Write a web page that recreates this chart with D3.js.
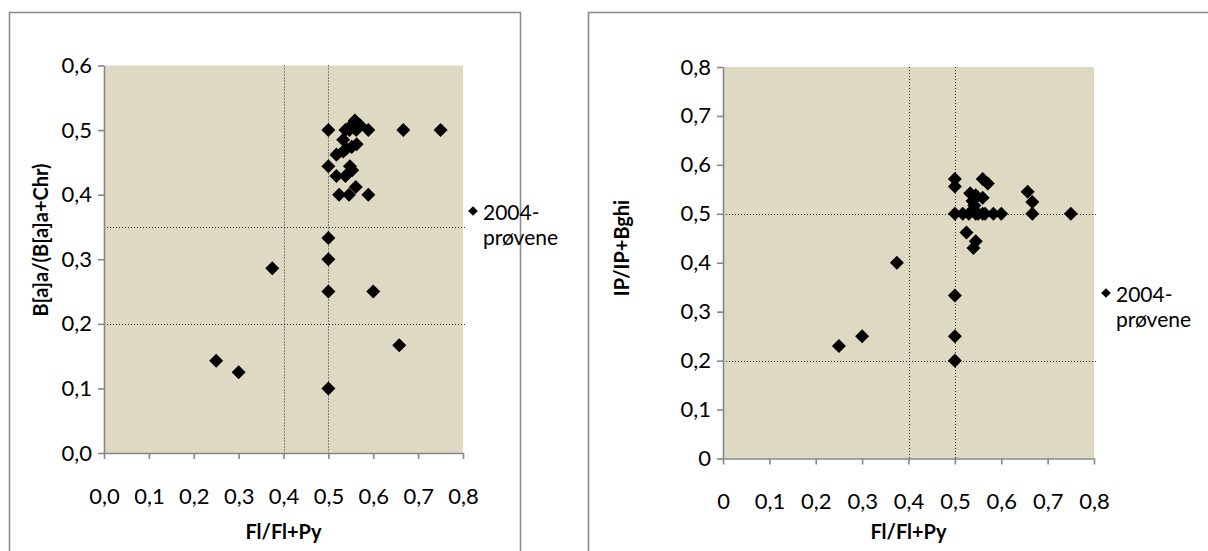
<!DOCTYPE html>
<html>
<head>
<meta charset="utf-8">
<script src="https://cdn.jsdelivr.net/npm/d3@7"></script>
<style>
  html, body { margin: 0; padding: 0; background: #fff; }
  svg { display: block; }
  text { font-family: Lato, "Open Sans", sans-serif; fill: #000; }
</style>
</head>
<body>
<svg id="chart" width="1208" height="551"></svg>
<script>
// Fl/(Fl+Py) against B[a]a/(B[a]a+Chr), 2004 samples
const baaX = [0.25, 0.30, 0.375, 0.50, 0.50, 0.50, 0.50, 0.50, 0.50, 0.60, 0.658, 0.667, 0.75,
  0.589, 0.589, 0.524, 0.546, 0.561, 0.518, 0.538, 0.548, 0.553, 0.518, 0.533, 0.540, 0.552,
  0.563, 0.533, 0.538, 0.547, 0.552, 0.559, 0.570, 0.562];
const baaY = [0.143, 0.125, 0.286, 0.10, 0.25, 0.30, 0.333, 0.444, 0.50, 0.25, 0.167, 0.50, 0.50,
  0.50, 0.40, 0.40, 0.40, 0.412, 0.429, 0.429, 0.444, 0.438, 0.462, 0.467, 0.471, 0.474,
  0.478, 0.485, 0.50, 0.50, 0.508, 0.515, 0.508, 0.50];

// Fl/(Fl+Py) against IP/(IP+Bghi), 2004 samples
const ipX = [0.25, 0.30, 0.375, 0.50, 0.50, 0.50, 0.50, 0.50, 0.50, 0.517, 0.525, 0.54, 0.545,
  0.533, 0.545, 0.538, 0.542, 0.54, 0.53, 0.545, 0.55, 0.56, 0.565, 0.583, 0.60, 0.56, 0.571,
  0.56, 0.667, 0.667, 0.657, 0.75];
const ipY = [0.23, 0.25, 0.40, 0.20, 0.25, 0.333, 0.50, 0.556, 0.571, 0.50, 0.462, 0.43, 0.444,
  0.542, 0.538, 0.526, 0.517, 0.508, 0.50, 0.50, 0.50, 0.50, 0.50, 0.50, 0.50, 0.571, 0.562,
  0.533, 0.50, 0.524, 0.545, 0.50];

const xTicks = [0, 0.1, 0.2, 0.3, 0.4, 0.5, 0.6, 0.7, 0.8];
const baaYTicks = [0, 0.1, 0.2, 0.3, 0.4, 0.5, 0.6];
const ipYTicks = [0, 0.1, 0.2, 0.3, 0.4, 0.5, 0.6, 0.7, 0.8];

// reference lines
const baaVLines = [0.4, 0.5];
const baaHLines = [0.35, 0.2];
const ipVLines = [0.4, 0.5];
const ipHLines = [0.5, 0.2];

const xTitle = "Fl/Fl+Py";
const baaTitle = "B[a]a/(B[a]a+Chr)";
const ipTitle = "IP/IP+Bghi";
const legendLines = ["2004-", "prøvene"];

const svg = d3.select("#chart");
const comma1 = d => d3.format(".1f")(d).replace(".", ",");
const plainComma = d => (d === 0 ? "0" : d3.format(".1f")(d).replace(".", ","));

function diamond(size) {
  return d3.symbol().type(d3.symbolDiamond2).size(size)();
}

function panel(cfg) {
  const g = svg.append("g");
  // outer frame
  g.append("rect")
    .attr("x", cfg.box[0]).attr("y", cfg.box[1])
    .attr("width", cfg.box[2]).attr("height", cfg.box[3])
    .attr("fill", "#fff").attr("stroke", "#8c8c8c").attr("stroke-width", 1.6);

  const x = d3.scaleLinear().domain([0, 0.8]).range([cfg.plot.left, cfg.plot.right]);
  const y = d3.scaleLinear().domain([0, cfg.yMax]).range([cfg.plot.bottom, cfg.plot.top]);

  g.append("rect")
    .attr("x", x(0)).attr("y", y(cfg.yMax))
    .attr("width", x(0.8) - x(0)).attr("height", y(0) - y(cfg.yMax))
    .attr("fill", "#ddd9c3");

  // dotted reference lines
  g.selectAll(".vl").data(cfg.vLines).join("line")
    .attr("x1", d => Math.round(x(d)) + 0.5).attr("x2", d => Math.round(x(d)) + 0.5)
    .attr("y1", y(cfg.yMax)).attr("y2", y(0))
    .attr("stroke", "#262626").attr("stroke-width", 1).attr("stroke-dasharray", "1,2");
  g.selectAll(".hl").data(cfg.hLines).join("line")
    .attr("x1", x(0)).attr("x2", x(0.8) + 3)
    .attr("y1", d => Math.round(y(d)) + 0.5).attr("y2", d => Math.round(y(d)) + 0.5)
    .attr("stroke", "#262626").attr("stroke-width", 1).attr("stroke-dasharray", "1,2");

  // axes
  const xAxis = d3.axisBottom(x).tickValues(xTicks).tickFormat(cfg.xFmt)
    .tickSizeInner(6).tickSizeOuter(0).tickPadding(29);
  const yAxis = d3.axisLeft(y).tickValues(cfg.yTicks).tickFormat(cfg.yFmt)
    .tickSizeInner(6).tickSizeOuter(0).tickPadding(6);

  const gx = g.append("g").attr("transform", `translate(0,${y(0)})`).call(xAxis);
  const gy = g.append("g").attr("transform", `translate(${x(0)},0)`).call(yAxis);
  [gx, gy].forEach(a => {
    a.select(".domain").attr("stroke", "#868686").attr("stroke-width", 1.6);
    a.selectAll(".tick line").attr("stroke", "#868686").attr("stroke-width", 1.6);
    a.selectAll(".tick text").attr("font-family", "Lato, sans-serif")
      .attr("font-size", 22).attr("fill", "#000");
  });

  // markers
  const pts = cfg.xs.map((v, i) => [v, cfg.ys[i]]);
  g.selectAll(".pt").data(pts).join("path")
    .attr("d", diamond(125))
    .attr("transform", d => `translate(${x(d[0])},${y(d[1])})`)
    .attr("fill", "#000");

  // axis titles
  g.append("text")
    .attr("x", (x(0) + x(0.8)) / 2).attr("y", cfg.xTitleY)
    .attr("text-anchor", "middle").attr("font-weight", "bold").attr("font-size", 20)
    .text(xTitle);
  g.append("text")
    .attr("transform", `translate(${cfg.yTitlePos[0]},${cfg.yTitlePos[1]}) rotate(-90)`)
    .attr("text-anchor", "middle").attr("font-weight", "bold").attr("font-size", 20)
    .attr("dominant-baseline", "central")
    .text(cfg.yTitle);

  // legend
  const lg = g.append("g").attr("transform", `translate(${cfg.legend[0]},${cfg.legend[1]})`);
  lg.append("path").attr("d", diamond(60)).attr("fill", "#000");
  lg.selectAll("text").data(legendLines).join("text")
    .attr("x", 10).attr("y", (d, i) => i * 25)
    .attr("dominant-baseline", "central").attr("font-size", 21)
    .text(d => d);
}

panel({
  box: [9.5, 12.5, 511, 560],
  plot: { left: 104, right: 463, top: 65.5, bottom: 453 },
  yMax: 0.6, yTicks: baaYTicks, xFmt: comma1, yFmt: comma1,
  vLines: baaVLines, hLines: baaHLines,
  xs: baaX, ys: baaY,
  xTitleY: 539, yTitle: baaTitle, yTitlePos: [40, 240],
  legend: [473, 211]
});

panel({
  box: [588.5, 12.5, 640, 560],
  plot: { left: 723, right: 1094, top: 67, bottom: 458.5 },
  yMax: 0.8, yTicks: ipYTicks, xFmt: plainComma, yFmt: plainComma,
  vLines: ipVLines, hLines: ipHLines,
  xs: ipX, ys: ipY,
  xTitleY: 539, yTitle: ipTitle, yTitlePos: [621, 248],
  legend: [1106, 293]
});
</script>
</body>
</html>
